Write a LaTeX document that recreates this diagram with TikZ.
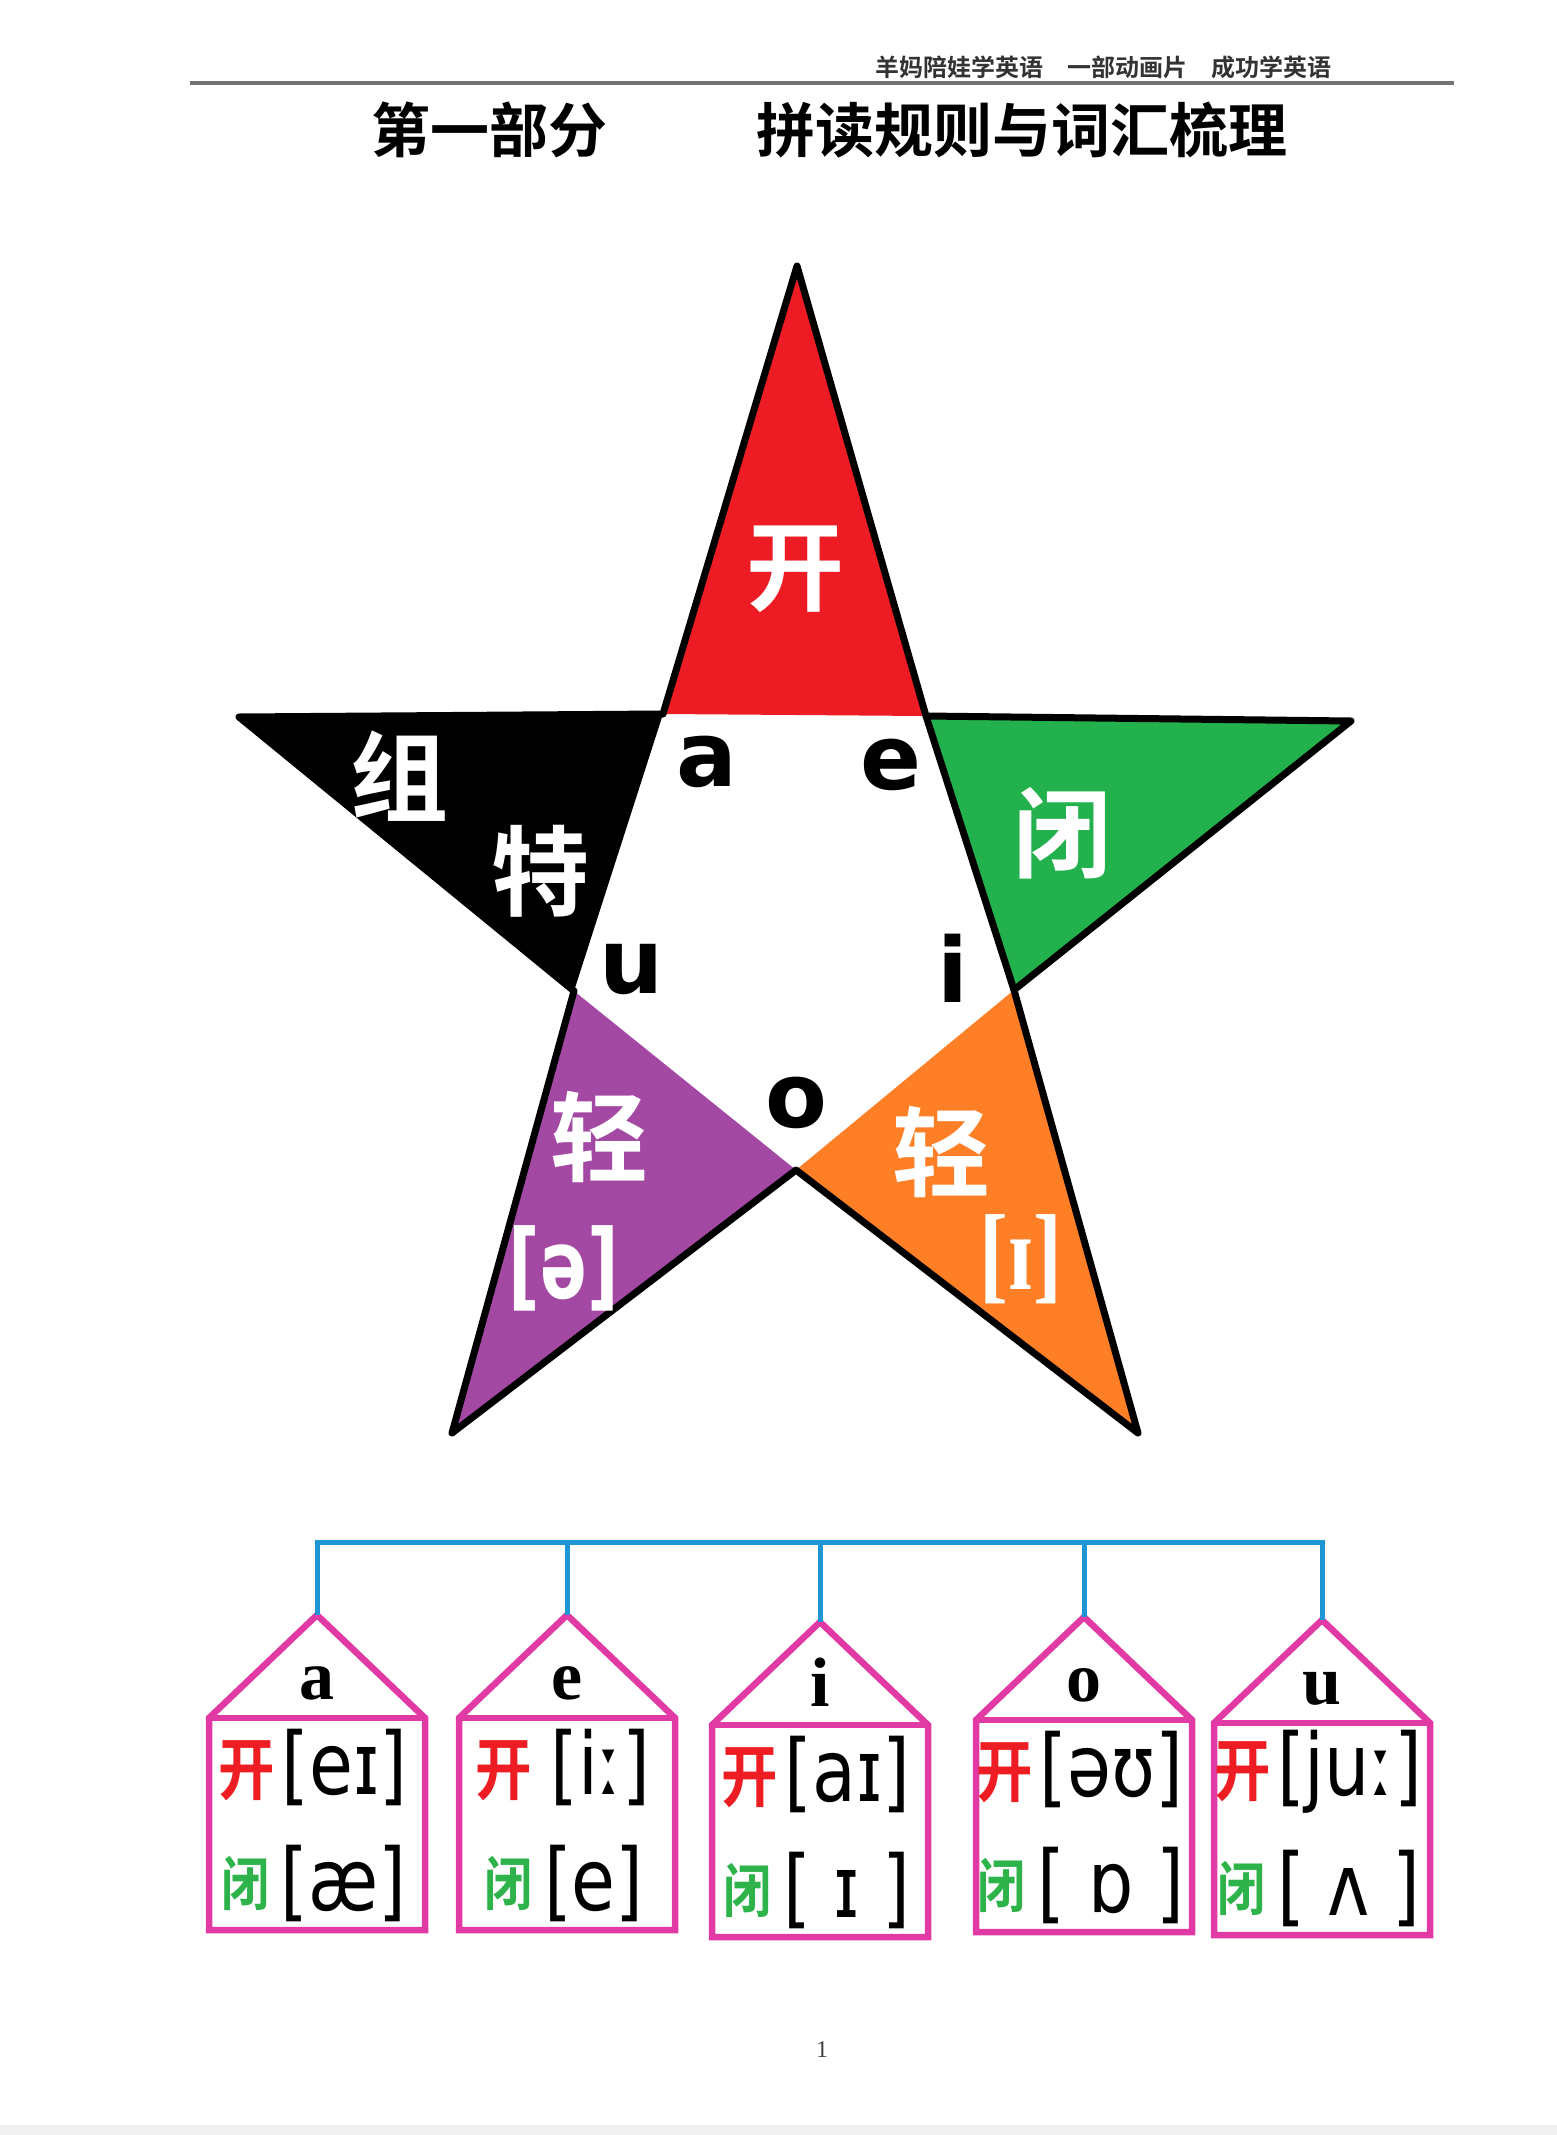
\documentclass[tikz,border=0pt]{standalone}
\usepackage{fontspec}
\newfontfamily\cjk{Noto Sans CJK SC}[BoldFont={Noto Sans CJK SC Bold}]
\newfontfamily\ipa{DejaVu Sans}
\newfontfamily\tms{Liberation Serif}

\definecolor{starred}{HTML}{ED1C24}
\definecolor{stargreen}{HTML}{22B14C}
\definecolor{starpurple}{HTML}{A349A4}
\definecolor{starorange}{HTML}{FF7F27}
\definecolor{housepink}{HTML}{E23AA5}
\definecolor{barblue}{HTML}{1E96D6}
\definecolor{kaired}{HTML}{EE1D23}
\definecolor{bigreen}{HTML}{2DB34A}

\tikzset{
  starline/.style={line width=7pt, line join=round},
  starchar/.style={text=white, inner sep=0pt, font=\cjk\bfseries\fontsize{98}{100}\selectfont},
  vowel/.style={inner sep=0pt, font=\ipa\bfseries\fontsize{90}{92}\selectfont},
  housebox/.style={draw=housepink, line width=6.5pt},
  barline/.style={draw=barblue, line width=5pt},
  roofletter/.style={inner sep=0pt, anchor=base, font=\tms\bfseries\fontsize{70}{72}\selectfont},
  sound/.style={inner sep=0pt},
}

\newcommand{\kaisound}[1]{\scalebox{0.83}[1]{{\cjk\bfseries\color{kaired}\fontsize{68}{70}\selectfont 开}\hspace{8pt}{\ipa\fontsize{86}{88}\selectfont#1}}}
\newcommand{\bisound}[1]{\scalebox{0.83}[1]{\raisebox{5pt}{\cjk\bfseries\color{bigreen}\fontsize{58}{60}\selectfont 闭}\hspace{14pt}{\ipa\fontsize{86}{88}\selectfont#1}}}

\begin{document}
\begin{tikzpicture}[x=1pt,y=-1pt]
    \useasboundingbox (0,0) rectangle (1557,2135);
    \fill [gray!12] (0,2125) rectangle (1557,2135);

    % header
    \node (brand) at (1332,67) [anchor=east, inner sep=0pt, text=black!80, font=\cjk\bfseries\fontsize{24}{26}\selectfont] {羊妈陪娃学英语\hspace{1em}一部动画片\hspace{1em}成功学英语};
    \draw [black!55, line width=4pt] (190,83) -- (1454,83);
    \node (part) at (371,130) [anchor=west, inner sep=0pt, font=\cjk\bfseries\fontsize{59}{61}\selectfont] {第一部分};
    \node (title) at (756,130) [anchor=west, inner sep=0pt, font=\cjk\bfseries\fontsize{59}{61}\selectfont] {拼读规则与词汇梳理};

    % star
    \coordinate (tipN) at (797,266);
    \coordinate (tipW) at (239,717);
    \coordinate (tipE) at (1351,721);
    \coordinate (tipSW) at (452,1433);
    \coordinate (tipSE) at (1138,1433);
    \coordinate (inNW) at (663,714);
    \coordinate (inNE) at (926,716);
    \coordinate (inW) at (574,991);
    \coordinate (inE) at (1014,990);
    \coordinate (inS) at (796,1170);
    \fill [starred] (tipN) -- (inNE) -- (inNW) -- cycle;
    \fill [black] (tipW) -- (inNW) -- (inW) -- cycle;
    \fill [stargreen] (tipE) -- (inE) -- (inNE) -- cycle;
    \fill [starpurple] (tipSW) -- (inW) -- (inS) -- cycle;
    \fill [starorange] (tipSE) -- (inS) -- (inE) -- cycle;
    \draw [starline] (tipN) -- (inNE) -- (tipE) -- (inE) -- (tipSE) -- (inS) -- (tipSW) -- (inW) -- (tipW) -- (inNW) -- cycle;
    \draw [starline] (inNE) -- (inE);

    \node (kai) at (795,569) [starchar] {开};
    \node (zu) at (399,776) [starchar] {组};
    \node (te) at (540,871) [starchar] {特};
    \node (bi) at (1062,833) [starchar] {闭};
    \node (qingL) at (599,1137) [starchar] {轻};
    \node (qingR) at (941,1152) [starchar] {轻};
    \node (schwa) at (564,1268) [inner sep=0pt, text=white] {\scalebox{0.72}[1]{\ipa\bfseries\fontsize{96}{98}\selectfont[ə]}};
    \node (shorti) at (1021,1259) [inner sep=0pt, text=white] {\scalebox{0.8}[1]{\tms\bfseries\fontsize{108}{110}\selectfont[ɪ]}};

    \node (va) at (707,762) [vowel] {a};
    \node (ve) at (891,765) [vowel] {e};
    \node (vu) at (632,970) [vowel] {u};
    \node (vi) at (953,968) [vowel] {i};
    \node (vo) at (796,1103) [vowel] {o};

    % vowel houses
    \foreach \c/\dy/\v/\op/\cl in {317/0/a/{[eɪ]}/{[æ]}, 567/0/e/{\hspace{14pt}[iː]}/{[e]}, 820/7/i/{[aɪ]}/{[ ɪ ]}, 1084/2/o/{[əʊ]}/{[ ɒ ]}, 1322/5/u/{[juː]}/{[ ʌ ]}} {
        \coordinate (apex\v) at (\c,{1615+\dy});
        \coordinate (bar\v) at (\c,1542);
        \draw [housebox] (\c-108,{1718+\dy}) -- (apex\v) -- (\c+108,{1718+\dy}) -- (\c+108,{1930+\dy}) -- (\c-108,{1930+\dy}) -- cycle;
        \draw [housebox] (\c-108,{1718+\dy}) -- (\c+108,{1718+\dy});
        \node (letter\v) at (\c,{1699+\dy}) [roofletter] {\v};
        \node (open\v) at (\c-4,{1767+\dy}) [sound] {\kaisound{\op}};
        \node (closed\v) at (\c-3,{1883+\dy}) [sound] {\bisound{\cl}};
    }
    \draw [barline] (apexa) -- (bara) -- (baru) -- (apexu);
    \draw [barline] (bare) -- (apexe);
    \draw [barline] (bari) -- (apexi);
    \draw [barline] (baro) -- (apexo);

    \node (pageno) at (822,2050) [inner sep=0pt, text=black!75, font=\tms\fontsize{24}{26}\selectfont] {1};
\end{tikzpicture}
\end{document}
